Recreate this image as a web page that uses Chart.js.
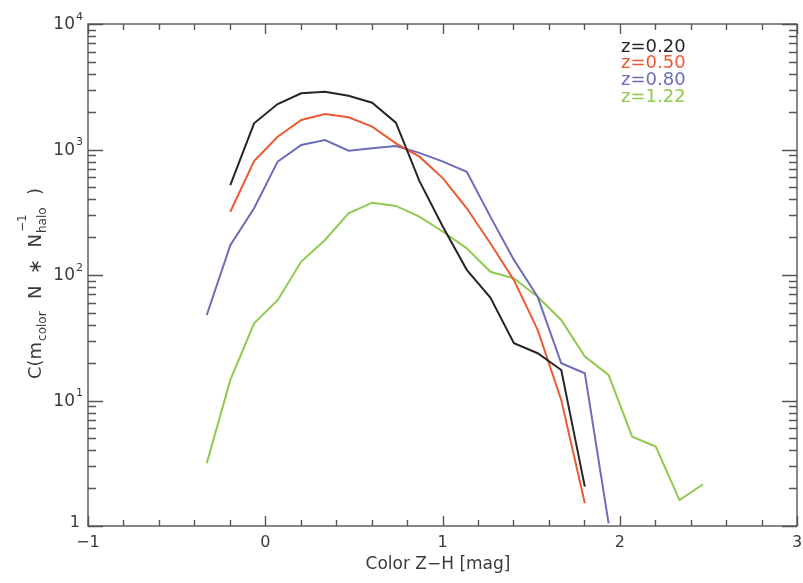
<!DOCTYPE html>
<html>
<head>
<meta charset="utf-8">
<script src="https://cdn.jsdelivr.net/npm/chart.js@4.4.1/dist/chart.umd.min.js"></script>
<style>
  html, body { margin: 0; padding: 0; background: #fff; }
  canvas { display: block; }
</style>
</head>
<body>
<canvas id="colorChart" width="803" height="583"></canvas>
<script>
// bin centres of the Z-H colour histogram
var colorBins = [-0.33, -0.197, -0.063, 0.07, 0.203, 0.337, 0.47, 0.603, 0.737, 0.87, 1.003,
                 1.137, 1.27, 1.403, 1.537, 1.67, 1.803, 1.937, 2.07, 2.203, 2.337, 2.47];

var z020 = [null, 521, 1618, 2305, 2805, 2890, 2685, 2360, 1636, 560, 241,
            110, 66, 28.6, 23.8, 17.5, 2.06, null, null, null, null, null];
var z050 = [null, 319, 810, 1265, 1718, 1918, 1805, 1520, 1120, 877, 589,
            340, 179, 91, 36.5, 10.1, 1.52, null, null, null, null, null];
var z080 = [48, 173, 340, 800, 1086, 1191, 978, 1023, 1066, 940, 800,
            665, 292, 132, 67, 19.8, 16.5, 1.05, null, null, null, null];
var z122 = [3.16, 14.6, 41.2, 63, 128, 190, 310, 377, 355, 292, 221,
            163, 106, 94, 67, 43.8, 22.4, 16, 5.15, 4.29, 1.61, 2.15];

var seriesLabels = ['z=0.20', 'z=0.50', 'z=0.80', 'z=1.22'];
var seriesColors = ['#262626', '#ec5a33', '#6c6cb8', '#8fca4f'];

var xTickValues = [-1, 0, 1, 2, 3];
var xTickLabels = ['\u22121', '0', '1', '2', '3'];
var yTickValues = [1, 10, 100, 1000, 10000];
var yTickExp = [null, '1', '2', '3', '4'];

function toPoints(vals) {
    var pts = [];
    for (var i = 0; i < vals.length; i++) {
        if (vals[i] !== null) pts.push({x: colorBins[i], y: vals[i]});
    }
    return pts;
}

var allSeries = [z020, z050, z080, z122];
var datasets = allSeries.map(function (vals, i) {
    return {
        label: seriesLabels[i],
        data: toPoints(vals),
        borderColor: seriesColors[i],
        borderWidth: 2,
        pointRadius: 0,
        tension: 0,
        fill: false
    };
});

var INK = '#3a3a3a';
var FONT = '"DejaVu Sans"';

// IDL style frame: inward ticks on all four sides, labels, titles and legend
var idlAxes = {
    id: 'idlAxes',
    afterDraw: function (chart) {
        var ctx = chart.ctx, a = chart.chartArea;
        var xs = chart.scales.x, ys = chart.scales.y;
        ctx.save();
        ctx.strokeStyle = '#555';
        ctx.lineWidth = 1.4;
        ctx.strokeRect(a.left, a.top, a.right - a.left, a.bottom - a.top);

        ctx.beginPath();
        for (var i = 0; i <= 20; i++) {
            var v = -1 + i * 0.2;
            var px = Math.round(xs.getPixelForValue(v)) + 0.5;
            var len = (i % 5 === 0) ? 10 : 6;
            ctx.moveTo(px, a.bottom); ctx.lineTo(px, a.bottom - len);
            ctx.moveTo(px, a.top); ctx.lineTo(px, a.top + len);
        }
        for (var d = 0; d <= 4; d++) {
            for (var m = 1; m <= 9; m++) {
                if (d === 4 && m > 1) break;
                var py = Math.round(ys.getPixelForValue(m * Math.pow(10, d))) + 0.5;
                var ln = (m === 1) ? 15 : 8;
                ctx.moveTo(a.left, py); ctx.lineTo(a.left + ln, py);
                ctx.moveTo(a.right, py); ctx.lineTo(a.right - ln, py);
            }
        }
        ctx.stroke();

        ctx.fillStyle = INK;
        ctx.textBaseline = 'middle';
        // x tick labels
        ctx.font = '16px ' + FONT;
        ctx.textAlign = 'center';
        xTickValues.forEach(function (v, i) {
            ctx.fillText(xTickLabels[i], xs.getPixelForValue(v), a.bottom + 17);
        });
        // y tick labels
        ctx.textAlign = 'right';
        yTickValues.forEach(function (v, i) {
            var py = ys.getPixelForValue(v);
            if (yTickExp[i] === null) {
                ctx.font = '16px ' + FONT;
                ctx.fillText('1', a.left - 8, py - 3);
            } else {
                ctx.font = '11px ' + FONT;
                var ew = ctx.measureText(yTickExp[i]).width;
                ctx.fillText(yTickExp[i], a.left - 5, py - 7);
                ctx.font = '17px ' + FONT;
                ctx.fillText('10', a.left - 6 - ew, py + 1);
            }
        });

        // x title
        ctx.textAlign = 'center';
        ctx.font = '17px ' + FONT;
        ctx.fillText('Color Z\u2212H [mag]', 438, 565);

        // y title, rotated, with sub/superscripts
        ctx.save();
        ctx.translate(34, 283);
        ctx.rotate(-Math.PI / 2);
        ctx.textAlign = 'left';
        ctx.textBaseline = 'alphabetic';
        var big = '18px ' + FONT, small = '12px ' + FONT;
        var parts = [
            {t: 'C(m', f: big, dy: 0},
            {t: 'color', f: small, dy: 5},
            {t: '  N  \u2217  N', f: big, dy: 0},
            {t: 'halo', f: small, dy: 5, sup: '\u22121'},
            {t: '  )', f: big, dy: 0}
        ];
        var total = 0;
        parts.forEach(function (p) { ctx.font = p.f; p.w = ctx.measureText(p.t).width + 1; total += p.w; });
        var cx = -total / 2;
        parts.forEach(function (p) {
            ctx.font = p.f;
            ctx.fillText(p.t, cx, 7 + p.dy);
            if (p.sup) ctx.fillText(p.sup, cx + 1, -8);
            cx += p.w;
        });
        ctx.restore();

        // legend in upper right
        ctx.textAlign = 'left';
        ctx.font = '18px ' + FONT;
        chart.data.datasets.forEach(function (ds, i) {
            ctx.fillStyle = ds.borderColor;
            ctx.fillText(ds.label, 621, 47 + i * 16.8);
        });
        ctx.restore();
    }
};

new Chart(document.getElementById('colorChart').getContext('2d'), {
    type: 'line',
    data: { datasets: datasets },
    options: {
        responsive: false,
        animation: false,
        devicePixelRatio: 1,
        layout: { padding: { left: 0, right: 6, top: 24, bottom: 0 } },
        plugins: { legend: { display: false }, tooltip: { enabled: false } },
        scales: {
            x: {
                type: 'linear', min: -1, max: 3,
                grid: { display: false }, border: { display: false },
                ticks: { display: false },
                afterFit: function (s) { s.height = 57; }
            },
            y: {
                type: 'logarithmic', min: 1, max: 10000,
                grid: { display: false }, border: { display: false },
                ticks: { display: false },
                afterFit: function (s) { s.width = 88; }
            }
        }
    },
    plugins: [idlAxes]
});
</script>
</body>
</html>
